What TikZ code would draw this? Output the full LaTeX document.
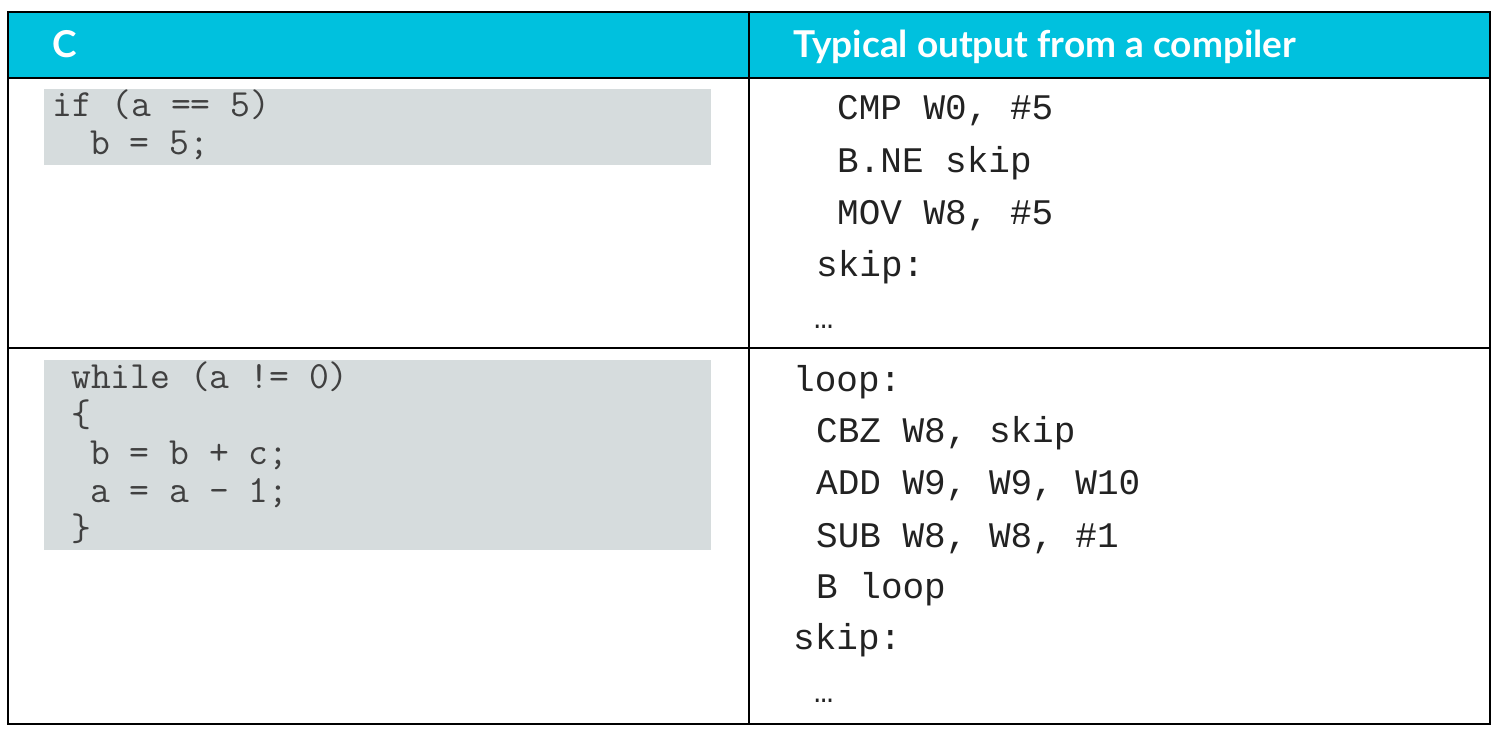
\documentclass[tikz,border=0pt]{standalone}
\usepackage{fontspec}
\newfontfamily\headfont{Lato}
\newfontfamily\asmfont{Liberation Mono}
\definecolor{headcyan}{HTML}{00C1DE}
\definecolor{codegray}{HTML}{D6DCDD}
\definecolor{ctext}{HTML}{404040}
\definecolor{atext}{HTML}{222222}
\begin{document}
\begin{tikzpicture}[x=1pt,y=-1pt,
  hdr/.style={anchor=base west,inner sep=0pt,text=white,font=\headfont\bfseries\fontsize{37}{40}\selectfont},
  ccode/.style={anchor=base west,inner sep=0pt,text=ctext,font=\ttfamily\fontsize{38.5}{40}\selectfont},
  acode/.style={anchor=base west,inner sep=0pt,text=atext,font=\asmfont\fontsize{36}{40}\selectfont},
  dots/.style={acode,font=\asmfont\fontsize{32}{36}\selectfont},
  grid/.style={line width=2.4pt,black}]
\useasboundingbox (0,0) rectangle (1502,733);
% header
\fill[headcyan] (8,12) rectangle (1490,78);
% gray code boxes
\fill[codegray] (44,89) rectangle (711,165);
\fill[codegray] (44,360) rectangle (711,550);
% grid
\draw[grid] (8,12) rectangle (1490,724);
\draw[grid] (8,78) -- (1490,78);
\draw[grid] (8,348) -- (1490,348);
\draw[grid] (749,12) -- (749,724);
% header text
\node[hdr] (hc) at (52,58) {C};
\node[hdr] (ht) at (793,58) {Typical output from a compiler};
% C code 1
\node[ccode] (c1) at (52,117) {if (a == 5)};
\node[ccode] (c2) at (90,155) {b = 5;};
% C code 2
\node[ccode] (w1) at (71,388) {while (a != 0)};
\node[ccode] (w2) at (71,426) {\{};
\node[ccode] (w3) at (90,464) {b = b + c;};
\node[ccode] (w4) at (90,502) {a = a - 1;};
\node[ccode] (w5) at (71,540) {\}};
% asm 1
\node[acode] (a1) at (837,120) {CMP W0, \#5};
\node[acode] (a2) at (837,172) {B.NE skip};
\node[acode] (a3) at (837,224) {MOV W8, \#5};
\node[acode] (a4) at (816,276) {skip:};
\node[dots] (a5) at (814,328) {…};
% asm 2
\node[acode] (b1) at (793,391) {loop:};
\node[acode] (b2) at (816,442) {CBZ W8, skip};
\node[acode] (b3) at (816,494) {ADD W9, W9, W10};
\node[acode] (b4) at (816,547) {SUB W8, W8, \#1};
\node[acode] (b5) at (816,598) {B loop};
\node[acode] (b6) at (793,649) {skip:};
\node[dots] (b7) at (814,702) {…};
\end{tikzpicture}
\end{document}
